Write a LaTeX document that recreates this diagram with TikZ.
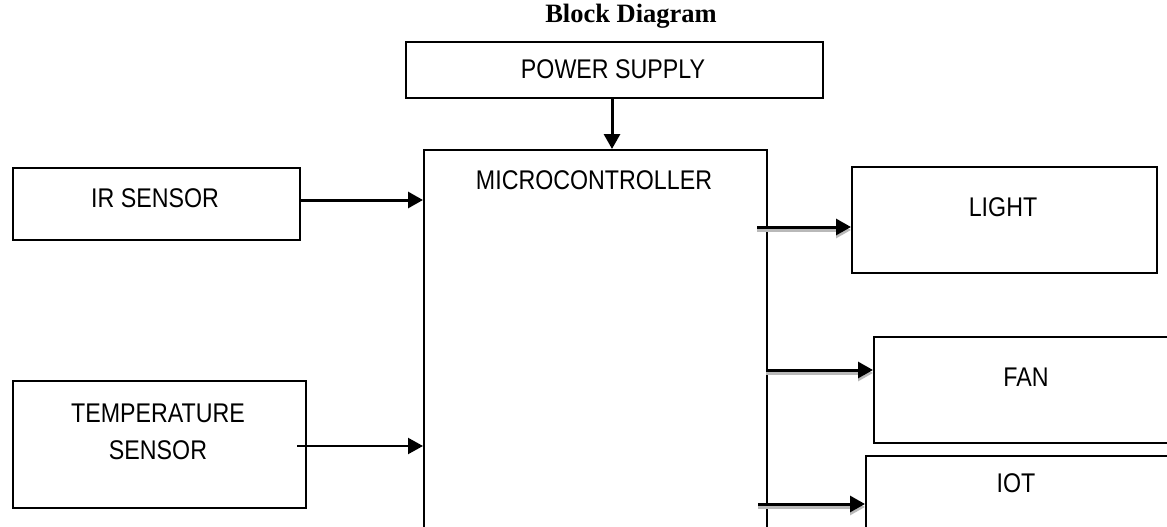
\documentclass[tikz,border=0pt]{standalone}
\usepackage{fontspec}
\setmainfont{Liberation Sans}[FakeStretch=0.86]
\newfontfamily\titlefont{Liberation Serif}
\usetikzlibrary{arrows.meta}
\tikzset{
  blk/.style={draw=black, line width=2pt, rectangle, inner sep=0pt, anchor=north west},
  lbl/.style={font=\fontsize{27}{37}\selectfont, align=center, inner sep=0pt},
  arr/.style={line width=3pt, -{Triangle[length=15pt,width=16pt]}},
  sarr/.style={line width=3pt, -{Triangle[length=15pt,width=16pt]},
    preaction={draw=gray!55, line width=3pt, -{Triangle[length=15pt,width=16pt]}, transform canvas={yshift=-3pt}}},
}
\begin{document}
\begin{tikzpicture}[x=1pt,y=-1pt]
\useasboundingbox (0,0) rectangle (1167,527);
\clip (0,0) rectangle (1167,527);
% title
\node[font=\titlefont\bfseries\fontsize{26.5}{30}\selectfont, inner sep=0pt] (title) at (631,16) {Block Diagram};
% boxes
\node[blk, minimum width=417pt, minimum height=56pt] (ps) at (405,41) {};
\node[lbl] (pst) at (613,69) {POWER SUPPLY};
\node[blk, minimum width=343pt, minimum height=420pt] (mcu) at (423,149) {};
\node[lbl] (mcut) at (594,180) {MICROCONTROLLER};
\node[blk, minimum width=287pt, minimum height=72pt] (ir) at (12,167) {};
\node[lbl] (irt) at (155,198) {IR SENSOR};
\node[blk, minimum width=293pt, minimum height=127pt] (temp) at (12,380) {};
\node[lbl, align=center] (tempt) at (158,432) {TEMPERATURE\\SENSOR};
\node[blk, minimum width=305pt, minimum height=106pt] (light) at (851,166) {};
\node[lbl] (lightt) at (1003,207) {LIGHT};
\node[blk, minimum width=320pt, minimum height=106pt] (fan) at (873,336) {};
\node[lbl] (fant) at (1026,377) {FAN};
\node[blk, minimum width=320pt, minimum height=120pt] (iot) at (865,455) {};
\node[lbl] (iott) at (1016,483) {IOT};
% connectors
\coordinate (irs) at (299,200);
\coordinate (irend) at (423,200);
\draw[arr] (irs) -- (irend);
\coordinate (ts) at (297,446);
\coordinate (tend) at (423,446);
\draw[arr, line width=2.2pt] (ts) -- (tend);
\coordinate (pss) at (612,97);
\coordinate (psend) at (612,149);
\draw[arr] (pss) -- (psend);
\coordinate (ls) at (757,227);
\coordinate (lend) at (851,227);
\draw[sarr] (ls) -- (lend);
\coordinate (fs) at (766,370);
\coordinate (fend) at (873,370);
\draw[sarr] (fs) -- (fend);
\coordinate (is) at (758,504);
\coordinate (iend) at (865,504);
\draw[sarr] (is) -- (iend);
\end{tikzpicture}
\end{document}
